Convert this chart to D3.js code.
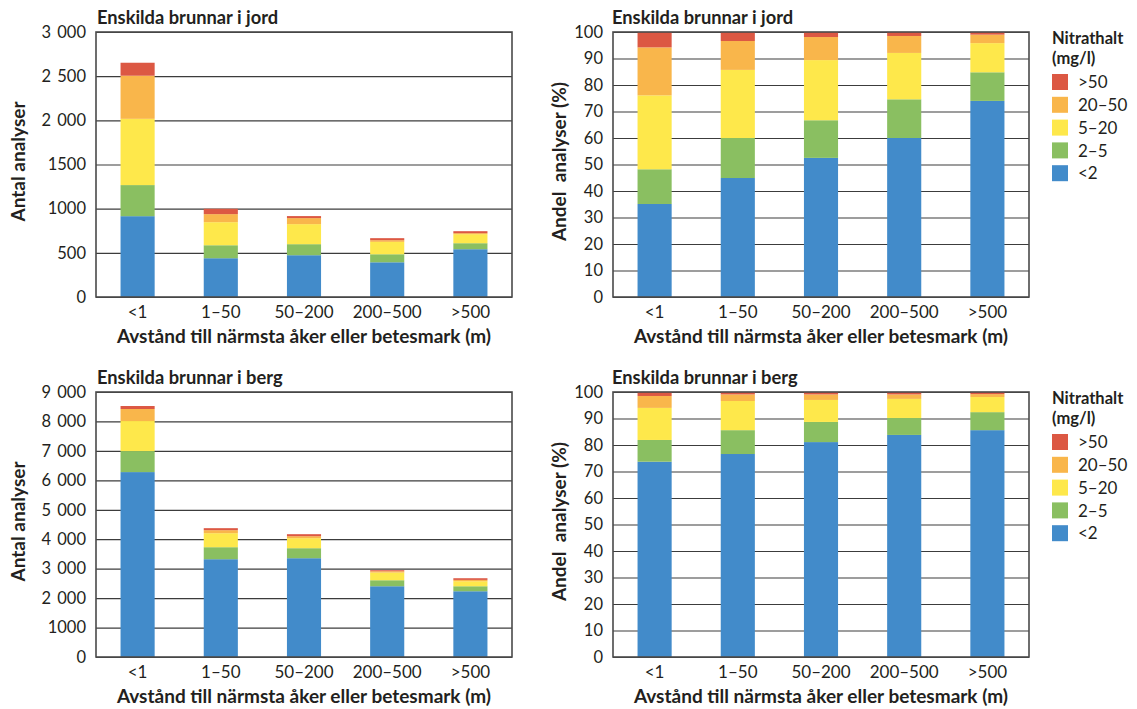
<!DOCTYPE html>
<html>
<head>
<meta charset="utf-8">
<script src="https://cdn.jsdelivr.net/npm/d3@7"></script>
<style>
  body { margin: 0; background: #fff; }
  svg text { font-family: Lato, "Open Sans", sans-serif; fill: #231f20; }
</style>
</head>
<body>
<svg id="chart"></svg>
<script>
// Data
const categories = ["<1", "1–50", "50–200", "200–500", ">500"]
const classes = ["<2", "2–5", "5–20", "20–50", ">50"]
const classColors = ["#428bca", "#8abf61", "#fee84b", "#f9b64b", "#dc5843"]

// rows = distance class, columns = nitrate class (<2, 2–5, 5–20, 20–50, >50)
const jordAntal = [
  [915, 352, 750, 488, 147],
  [439, 147, 261, 91, 61],
  [473, 125, 227, 68, 23],
  [393, 91, 140, 19, 23],
  [541, 68, 102, 12, 22],
]
const jordAndel = [
  [35.1, 13.1, 27.9, 18.1, 5.8],
  [44.9, 15.1, 25.7, 10.9, 3.4],
  [52.5, 14.2, 22.7, 8.7, 1.9],
  [60.0, 14.6, 17.5, 6.4, 1.5],
  [74.0, 10.8, 11.0, 3.2, 1.0],
]
const bergAntal = [
  [6280, 714, 1020, 408, 102],
  [3321, 408, 476, 102, 68],
  [3355, 340, 340, 68, 68],
  [2403, 204, 261, 45, 34],
  [2233, 170, 170, 45, 57],
]
const bergAndel = [
  [73.7, 8.2, 12.1, 4.5, 1.5],
  [76.6, 9.0, 11.0, 2.5, 0.9],
  [81.1, 7.6, 8.3, 2.1, 0.9],
  [83.8, 6.4, 7.2, 1.7, 0.9],
  [85.6, 6.8, 5.7, 1.1, 0.8],
]

const jordAntalTicks = [0, 500, 1000, 1500, 2000, 2500, 3000]
const jordAntalLabels = ["0", "500", "1000", "1500", "2 000", "2 500", "3 000"]
const bergAntalTicks = [0, 1000, 2000, 3000, 4000, 5000, 6000, 7000, 8000, 9000]
const bergAntalLabels = ["0", "1000", "2 000", "3 000", "4 000", "5 000", "6 000", "7 000", "8 000", "9 000"]
const andelTicks = [0, 10, 20, 30, 40, 50, 60, 70, 80, 90, 100]
const andelLabels = andelTicks.map(String)

const xTitle = "Avstånd till närmsta åker eller betesmark (m)"
const legendTitle = ["Nitrathalt", "(mg/l)"]

// Dimensions
const width = 1137
const height = 709
const plotW = 416
const plotH = 265

const svg = d3.select("#chart")
    .attr("width", width)
    .attr("height", height)

function drawPanel(p) {
    const bounds = svg.append("g")
        .attr("transform", `translate(${p.left}, ${p.top})`)

    const xScale = d3.scaleBand()
        .domain(categories)
        .range([0, plotW])
        .paddingInner(0.59)
        .paddingOuter(0.295)

    const yScale = d3.scaleLinear()
        .domain([0, p.max])
        .range([plotH, 0])

    // gridlines
    const grid = bounds.append("g")
        .call(d3.axisLeft(yScale).tickValues(p.ticks).tickSize(-plotW).tickFormat(""))
    grid.select(".domain").remove()
    grid.selectAll("line")
        .attr("stroke", "#3c3c3c")
        .attr("stroke-width", 1.2)

    // stacked bars
    const series = d3.stack()
        .keys(d3.range(classes.length))
        .value((d, k) => d[k])(p.data)

    bounds.append("g")
        .selectAll("g")
        .data(series)
        .join("g")
            .attr("fill", (d, i) => classColors[i])
        .selectAll("rect")
        .data(d => d)
        .join("rect")
            .attr("x", (d, i) => xScale(categories[i]))
            .attr("y", d => yScale(d[1]))
            .attr("width", xScale.bandwidth())
            .attr("height", d => yScale(d[0]) - yScale(d[1]))

    // frame
    bounds.append("rect")
        .attr("width", plotW)
        .attr("height", plotH)
        .attr("fill", "none")
        .attr("stroke", "#4a4a4a")
        .attr("stroke-width", 1.6)

    // y tick labels
    const yAxis = bounds.append("g")
        .call(d3.axisLeft(yScale).tickValues(p.ticks)
            .tickFormat((d, i) => p.labels[i]).tickSize(0).tickPadding(10))
    yAxis.select(".domain").remove()
    yAxis.selectAll("text")
        .attr("font-family", null)
        .style("font-size", "16.5px")
        .style("word-spacing", "2px")

    // x tick labels
    const xAxis = bounds.append("g")
        .attr("transform", `translate(0, ${plotH})`)
        .call(d3.axisBottom(xScale).tickSize(0).tickPadding(9))
    xAxis.select(".domain").remove()
    xAxis.selectAll("text")
        .attr("font-family", null)
        .style("font-size", "17px")

    bounds.append("text")
        .attr("x", plotW / 2)
        .attr("y", plotH + 46)
        .attr("text-anchor", "middle")
        .style("font-size", "19px")
        .style("font-weight", 700)
        .text(xTitle)

    bounds.append("text")
        .attr("transform", `translate(${p.yTitleX}, ${plotH / 2 - 3}) rotate(-90)`)
        .attr("text-anchor", "middle")
        .style("font-size", "19px")
        .style("font-weight", 700)
        .style("white-space", "pre")
        .text(p.yTitle)

    bounds.append("text")
        .attr("x", p.titleX)
        .attr("y", -8)
        .style("font-size", "18.3px")
        .style("font-weight", 700)
        .text(p.title)

    if (p.legend) {
        const legend = bounds.append("g")
            .attr("transform", `translate(${plotW + 23}, 0)`)
        legend.selectAll("text.head")
            .data(legendTitle)
            .join("text")
                .attr("class", "head")
                .attr("y", (d, i) => 12 + i * 19.5)
                .style("font-size", "16.5px")
                .style("font-weight", 700)
                .text(d => d)
        const items = legend.selectAll("g.item")
            .data(d3.range(classes.length).reverse())
            .join("g")
                .attr("class", "item")
                .attr("transform", (d, i) => `translate(0, ${42 + i * 22.8})`)
        items.append("rect")
            .attr("width", 16)
            .attr("height", 16)
            .attr("fill", d => classColors[d])
        items.append("text")
            .attr("x", 26)
            .attr("y", 8)
            .attr("dy", "0.36em")
            .style("font-size", "17px")
            .text(d => classes[d])
    }
}

drawPanel({ left: 96, top: 32, data: jordAntal, max: 3000, ticks: jordAntalTicks, labels: jordAntalLabels,
    title: "Enskilda brunnar i jord", titleX: 1, yTitle: "Antal analyser", yTitleX: -71, legend: false })
drawPanel({ left: 613, top: 32, data: jordAndel, max: 100, ticks: andelTicks, labels: andelLabels,
    title: "Enskilda brunnar i jord", titleX: -1, yTitle: "Andel  analyser (%)", yTitleX: -47, legend: true })
drawPanel({ left: 96, top: 392, data: bergAntal, max: 9000, ticks: bergAntalTicks, labels: bergAntalLabels,
    title: "Enskilda brunnar i berg", titleX: 1, yTitle: "Antal analyser", yTitleX: -71, legend: false })
drawPanel({ left: 613, top: 392, data: bergAndel, max: 100, ticks: andelTicks, labels: andelLabels,
    title: "Enskilda brunnar i berg", titleX: -1, yTitle: "Andel  analyser (%)", yTitleX: -47, legend: true })
</script>
</body>
</html>
